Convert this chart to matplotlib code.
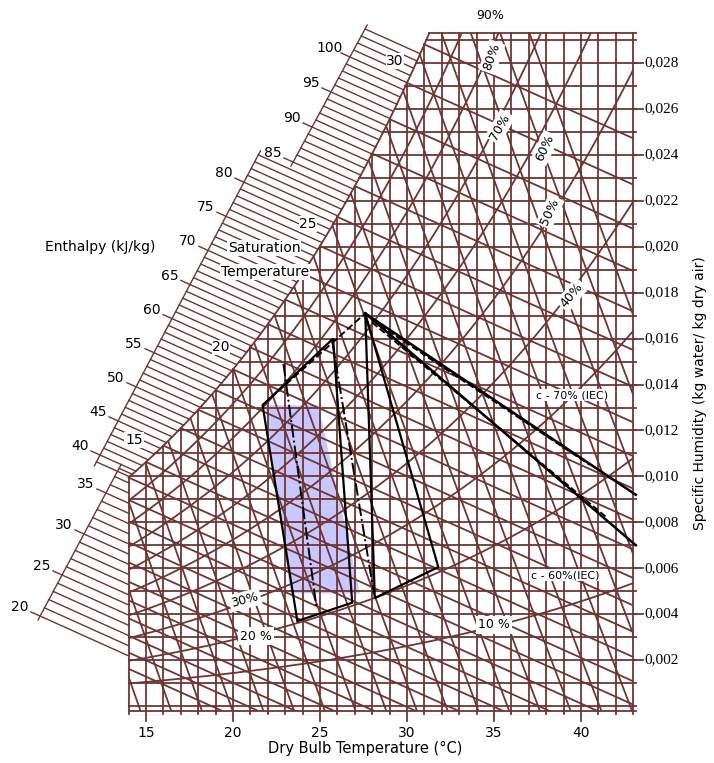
import numpy as np
import matplotlib.pyplot as plt
from matplotlib.patches import Polygon

P_ATM = 101.325
BROWN = '#6e3535'


def p_sat(t):
    return 0.61094 * np.exp(17.625 * t / (t + 243.04))


def w_of(t, rh=1.0):
    p = rh * p_sat(t)
    return 0.622 * p / (P_ATM - p)


########################## chart data ##################################
t_grid = np.arange(14, 44)                       # dry bulb lines, degC
w_grid = np.arange(0.0, 0.0295, 0.001)           # humidity lines, kg/kg
t_ticks = [15, 20, 25, 30, 35, 40]
w_ticks = [0.002, 0.004, 0.006, 0.008, 0.010, 0.012, 0.014,
           0.016, 0.018, 0.020, 0.022, 0.024, 0.026, 0.028]
w_tick_labels = ['0,002', '0,004', '0,006', '0,008', '0,010', '0,012', '0,014',
                 '0,016', '0,018', '0,020', '0,022', '0,024', '0,026', '0,028']
rh_curves = [0.1, 0.2, 0.3, 0.4, 0.5, 0.6, 0.7, 0.8, 0.9]
rh_names = ['10 %', '20 %', '30%', '40%', '50%', '60%', '70%', '80%', '90%']
twb_lines = np.arange(4, 32)                     # saturation temperature lines
twb_names = [15, 20, 25, 30]
v_lines = np.arange(0.80, 0.925, 0.005)          # specific volume, m3/kg
h_scale = np.arange(20, 105)                     # enthalpy scale, kJ/kg
h_names = np.arange(20, 105, 5)

# envelopes (dry bulb degC, humidity kg/kg)
zone_t = [21.7, 25.75, 26.85, 23.7]
zone_w = [0.0131, 0.0160, 0.0045, 0.0037]
zone2_t = [27.6, 31.8, 28.15]
zone2_w = [0.0171, 0.00605, 0.0047]
edge_t = [21.7, 27.6]
edge_w = [0.0131, 0.0171]
dash1_t = [22.9, 24.8]
dash1_w = [0.0149, 0.0043]
dash2_t = [25.7, 28.1]
dash2_w = [0.0159, 0.0049]
c70_t = [27.6, 43.15]
c70_w = [0.0171, 0.0092]
c70d_t = [28.0, 40.5]
c70d_w = [0.0168, 0.0105]
c60_t = [27.6, 43.15]
c60_w = [0.0171, 0.0070]
c60d_t = [28.0, 41.5]
c60d_w = [0.0167, 0.0082]
fill_t = [21.85, 24.9, 27.3, 23.3]
fill_w = [0.0131, 0.0131, 0.0049, 0.0049]

########################## layout ######################################
W_PX, H_PX = 714, 763
PX_T15, PX_PER_C = 146.0, 17.4
PY_W0, PY_PER_W = 706.0, 22960.0
T_LO, T_HI = 14.0, 43.0
W_LO, W_HI = -0.0002, 0.0293
HATCH = -0.45 * PX_PER_C / PY_PER_W              # slope of the diagonal lines


def dat(px, py):
    return 15 + (px - PX_T15) / PX_PER_C, (PY_W0 - py) / PY_PER_W


def dx(px):
    return px / PX_PER_C


def dy(py):
    return py / PY_PER_W


fig = plt.figure(figsize=(W_PX / 100, H_PX / 100), dpi=100)
ax = fig.add_axes([0, 0, 1, 1])
x0, y1 = dat(0, 0)
x1, y0 = dat(W_PX, H_PX)
ax.set_xlim(x0, x1)
ax.set_ylim(y0, y1)
ax.axis('off')

# region below the saturation curve
tt = np.linspace(10, 35, 2000)
t_top = np.interp(W_HI, w_of(tt), tt)
ts = np.linspace(T_LO, t_top, 200)
clip_verts = [(T_LO, W_LO)] + list(zip(ts, w_of(ts))) + \
             [(t_top, W_HI), (T_HI, W_HI), (T_HI, W_LO)]
clip = Polygon(clip_verts, closed=True, facecolor='none', edgecolor='none')
ax.add_patch(clip)

lw = 1.3
# vertical lines
for t in t_grid:
    ext = dy(10) if t in t_ticks else dy(3)
    ax.plot([t, t], [W_LO - ext, min(w_of(t), W_HI)], color=BROWN, lw=lw)
# horizontal lines
for w in list(w_grid) + [W_LO, W_HI]:
    t_start = T_LO if w <= w_of(T_LO) else np.interp(w, w_of(tt), tt)
    ax.plot([t_start, T_HI + dx(3)], [w, w], color=BROWN, lw=lw)
for w, lab in zip(w_ticks, w_tick_labels):
    ax.plot([T_HI, T_HI + dx(10)], [w, w], color=BROWN, lw=lw)
    ax.text(T_HI + dx(11), w, lab, ha='left', va='center',
            family='Liberation Serif', fontsize=11)
for t in t_ticks:
    ax.text(t, W_LO - dy(22), str(t), ha='center', va='center', fontsize=10)

# relative humidity curves
tc = np.linspace(T_LO, T_HI, 400)
for rh in rh_curves:
    ln, = ax.plot(tc, w_of(tc, rh), color=BROWN, lw=lw)
    ln.set_clip_path(clip)

# saturation temperature lines
for tw in twb_lines:
    tl = np.array([tw, T_HI + 1])
    ln, = ax.plot(tl, w_of(tw) + HATCH * (tl - tw), color=BROWN, lw=lw)
    ln.set_clip_path(clip)

# specific volume lines
wv = np.linspace(-0.001, 0.031, 50)
for v in v_lines:
    tv = v * P_ATM / (0.287 * (1 + 1.6078 * wv)) - 273.15
    ln, = ax.plot(tv, wv, color=BROWN, lw=lw)
    ln.set_clip_path(clip)

# saturation curve
ts2 = np.linspace(T_LO, t_top, 200)
ax.plot(ts2, w_of(ts2), color=BROWN, lw=lw)

# enthalpy scale
segments = [(20, 38, (40, 616), (4.4, -8.2)),
            (39, 84, (100 - 3.6, 455 + 6.82), (3.6, -6.82)),
            (85, 104, (293, 162), (3.8, -7.0))]
for h0, h1, p0, step in segments:
    ends = []
    for h in range(h0, h1 + 1):
        k = h - h0
        ox, oy = dat(p0[0] + k * step[0], p0[1] + k * step[1])
        ends.append((ox, oy))
        tl = np.linspace(ox, ox + 15, 3000)
        wl = oy + HATCH * (tl - ox)
        inside = (tl >= T_LO) & (wl <= w_of(tl))
        te = tl[np.argmax(inside)]
        ts_ = ox - (dx(9) if h in h_names else 0)
        ax.plot([ts_, te], [oy + HATCH * (ts_ - ox), oy + HATCH * (te - ox)],
                color=BROWN, lw=1.0)
        if h in h_names:
            ax.text(ox - dx(20), oy + dy(9), str(h), ha='center', va='center',
                    fontsize=10)
    ex = [e[0] for e in ends]
    ey = [e[1] for e in ends]
    ax.plot([ex[0] - dx(2), ex[-1] + dx(2)], [ey[0] - dy(4), ey[-1] + dy(4)],
            color=BROWN, lw=1.0)

for tw in twb_names:
    ax.text(tw - dx(12), w_of(tw) + dy(22), str(tw), ha='center', va='center',
            fontsize=10, bbox=dict(facecolor='white', edgecolor='none', pad=0.5))

tx, wy = dat(264, 248)
ax.text(tx, wy, 'Saturation', ha='center', va='center', fontsize=10,
        bbox=dict(facecolor='white', edgecolor='none', pad=0.5))
tx, wy = dat(265, 272)
ax.text(tx, wy, 'Temperature', ha='center', va='center', fontsize=10,
        bbox=dict(facecolor='white', edgecolor='none', pad=0.5))

# relative humidity labels
rh_pos = [(494, 625, 0), (256, 636, 0), (245, 600, 15), (572, 295, 50),
          (550, 212, 65), (545, 148, 65), (500, 127, 60), (492, 57, 70),
          (490, 15, 0)]
for name, (px, py, rot) in zip(rh_names, rh_pos):
    tx, wy = dat(px, py)
    ax.text(tx, wy, name, ha='center', va='center', fontsize=9, rotation=rot,
            bbox=dict(facecolor='white', edgecolor='none', pad=1.5))

# envelopes
ax.add_patch(Polygon(list(zip(fill_t, fill_w)), closed=True,
                     facecolor='#c8c8ff', edgecolor='none', zorder=0.5))
ax.add_patch(Polygon(list(zip(zone_t, zone_w)), closed=True, fill=False,
                     edgecolor='black', lw=1.6, zorder=5))
ax.plot(zone2_t + zone2_t[:1], zone2_w + zone2_w[:1], color='black', lw=1.6, zorder=5)
ax.plot(edge_t, edge_w, color='black', lw=1.4, ls='--', zorder=5)
ax.plot(dash1_t, dash1_w, color='black', lw=1.4, ls='-.', zorder=5)
ax.plot(dash2_t, dash2_w, color='black', lw=1.4, ls='-.', zorder=5)
ax.plot(c70_t, c70_w, color='black', lw=1.8, zorder=5)
ax.plot(c60_t, c60_w, color='black', lw=1.8, zorder=5)
ax.plot(c70d_t, c70d_w, color='black', lw=1.3, ls='--', zorder=5)
ax.plot(c60d_t, c60d_w, color='black', lw=1.3, ls='--', zorder=5)

tx, wy = dat(572, 395)
ax.text(tx, wy, 'c - 70% (IEC)', ha='center', va='center', fontsize=8,
        bbox=dict(facecolor='white', edgecolor='none', pad=1), zorder=6)
tx, wy = dat(565, 575)
ax.text(tx, wy, 'c - 60%(IEC)', ha='center', va='center', fontsize=8,
        bbox=dict(facecolor='white', edgecolor='none', pad=1), zorder=6)

tx, wy = dat(100, 247)
ax.text(tx, wy, 'Enthalpy (kJ/kg)', ha='center', va='center', fontsize=10)
tx, wy = dat(365, 748)
ax.text(tx, wy, 'Dry Bulb Temperature (\u00b0C)', ha='center', va='center', fontsize=10.5)
tx, wy = dat(700, 393)
ax.text(tx, wy, 'Specific Humidity (kg water/ kg dry air)', ha='center',
        va='center', rotation=90, fontsize=10)

fig.savefig('out.png', dpi=100)
